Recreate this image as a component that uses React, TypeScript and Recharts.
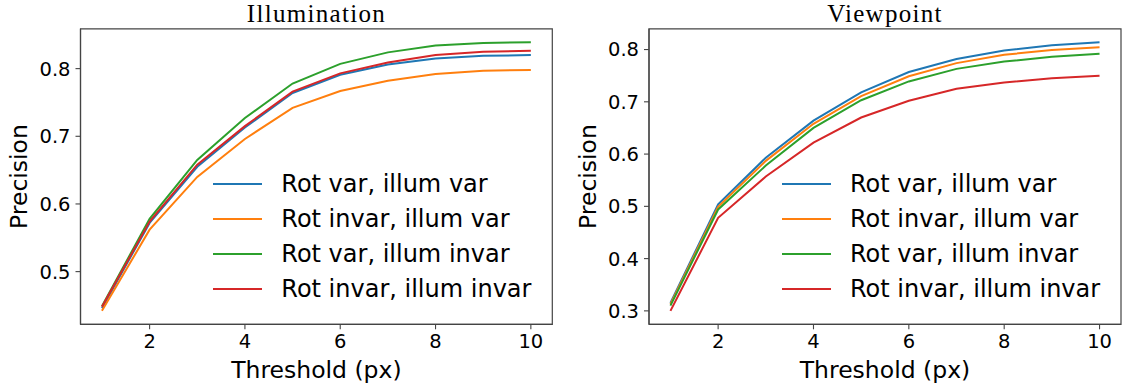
import { Legend, Line, LineChart, ReferenceArea, XAxis, YAxis } from "recharts";

const thresholds = [1, 2, 3, 4, 5, 6, 7, 8, 9, 10];

// Illumination panel
const illumRotVarIllumVar = [0.446, 0.572, 0.655, 0.713, 0.764, 0.791, 0.806, 0.815, 0.819, 0.82];
const illumRotInvarIllumVar = [0.442, 0.562, 0.64, 0.696, 0.742, 0.767, 0.782, 0.792, 0.797, 0.798];
const illumRotVarIllumInvar = [0.449, 0.578, 0.665, 0.727, 0.778, 0.807, 0.824, 0.834, 0.838, 0.839];
const illumRotInvarIllumInvar = [0.448, 0.574, 0.658, 0.715, 0.766, 0.793, 0.809, 0.82, 0.825, 0.8265];

// Viewpoint panel
const viewRotVarIllumVar = [0.315, 0.504, 0.593, 0.664, 0.718, 0.757, 0.782, 0.798, 0.808, 0.814];
const viewRotInvarIllumVar = [0.313, 0.499, 0.587, 0.658, 0.711, 0.749, 0.774, 0.79, 0.799, 0.8045];
const viewRotVarIllumInvar = [0.31, 0.494, 0.578, 0.65, 0.703, 0.739, 0.763, 0.777, 0.786, 0.792];
const viewRotInvarIllumInvar = [0.3, 0.478, 0.557, 0.622, 0.67, 0.702, 0.725, 0.737, 0.745, 0.75];

const seriesNames = [
  "Rot var, illum var",
  "Rot invar, illum var",
  "Rot var, illum invar",
  "Rot invar, illum invar",
];
const seriesColors = ["#1f77b4", "#ff7f0e", "#2ca02c", "#d62728"];

const xTicks = [2, 4, 6, 8, 10];
const illumYTicks = [0.5, 0.6, 0.7, 0.8];
const viewYTicks = [0.3, 0.4, 0.5, 0.6, 0.7, 0.8];

const W = 563;
const H = 387;
const PLOT_TOP = 28.8;
const PLOT_BOTTOM = 324.3;
const X_AXIS_H = 30;
const FONT = "'DejaVu Sans', sans-serif";
const SPINE = "#444";
const X_DOMAIN: [number, number] = [0.55, 10.45];

function Panel({
  title,
  series,
  yTicks,
  left,
  plotLeft,
  plotRight,
}: {
  title: string;
  series: number[][];
  yTicks: number[];
  left: number;
  plotLeft: number;
  plotRight: number;
}) {
  const rows = thresholds.map((t, i) => {
    const r: Record<string, number> = { t };
    series.forEach((s, k) => (r[`s${k}`] = s[i]));
    return r;
  });
  const all = series.flat();
  const lo = Math.min(...all);
  const hi = Math.max(...all);
  const pad = (hi - lo) * 0.05;
  const yDomain: [number, number] = [lo - pad, hi + pad];
  const cx = (plotLeft + plotRight) / 2;
  const midY = (PLOT_TOP + PLOT_BOTTOM) / 2;
  const tickStyle = { fill: "#000", fontSize: 19.5, fontFamily: FONT };

  return (
    <div style={{ position: "absolute", left, top: 0, width: W, height: H }}>
      <LineChart
        width={W}
        height={H}
        data={rows}
        margin={{ top: PLOT_TOP, right: W - plotRight, bottom: H - PLOT_BOTTOM - X_AXIS_H, left: 0 }}
      >
        <XAxis
          xAxisId="b"
          type="number"
          dataKey="t"
          domain={X_DOMAIN}
          allowDataOverflow
          ticks={xTicks}
          height={X_AXIS_H}
          tickSize={5}
          tickMargin={5}
          tick={tickStyle}
          axisLine={{ stroke: SPINE, strokeWidth: 1.2 }}
          tickLine={{ stroke: SPINE, strokeWidth: 1.1 }}
          label={() => (
            <text x={cx} y={378} textAnchor="middle" fontSize={23.5} fontFamily={FONT} fill="#000">
              Threshold (px)
            </text>
          )}
        />
        <YAxis
          yAxisId="l"
          type="number"
          width={plotLeft}
          domain={yDomain}
          allowDataOverflow
          ticks={yTicks}
          tickFormatter={(v: number) => v.toFixed(1)}
          tickSize={5}
          tickMargin={5}
          tick={tickStyle}
          axisLine={{ stroke: SPINE, strokeWidth: 1.2 }}
          tickLine={{ stroke: SPINE, strokeWidth: 1.1 }}
          label={() => (
            <g>
              <text
                x={plotLeft - 53}
                y={midY}
                transform={`rotate(-90 ${plotLeft - 53} ${midY})`}
                textAnchor="middle"
                fontSize={23.5}
                fontFamily={FONT}
                fill="#000"
              >
                Precision
              </text>
              <text
                x={cx}
                y={22}
                textAnchor="middle"
                fontSize={25}
                letterSpacing={1.3}
                fontFamily="'Liberation Serif', serif"
                fill="#000"
              >
                {title}
              </text>
            </g>
          )}
        />
        <ReferenceArea
          xAxisId="b"
          yAxisId="l"
          x1={X_DOMAIN[0]}
          x2={X_DOMAIN[1]}
          y1={yDomain[0]}
          y2={yDomain[1]}
          fill="none"
          fillOpacity={0}
          stroke={SPINE}
          strokeWidth={1.2}
          ifOverflow="visible"
        />
        {series.map((_, k) => (
          <Line
            key={k}
            xAxisId="b"
            yAxisId="l"
            type="linear"
            dataKey={`s${k}`}
            name={seriesNames[k]}
            stroke={seriesColors[k]}
            strokeWidth={2}
            dot={false}
            activeDot={false}
            isAnimationActive={false}
          />
        ))}
        <Legend
          layout="vertical"
          align="center"
          verticalAlign="middle"
          wrapperStyle={{ left: plotRight - 339, top: 166.8, width: "auto", height: "auto" }}
          content={({ payload }: any) => {
            const items = [...(payload || [])].sort(
              (a: any, b: any) => seriesNames.indexOf(a.value) - seriesNames.indexOf(b.value)
            );
            return (
              <div style={{ fontFamily: FONT, fontSize: 24, color: "#000" }}>
                {items.map((e: any) => (
                  <div key={e.value} style={{ display: "flex", alignItems: "center", height: 35, whiteSpace: "nowrap" }}>
                    <svg width={49} height={4} style={{ marginRight: 19, display: "block" }}>
                      <line x1={0} y1={2} x2={49} y2={2} stroke={e.color} strokeWidth={2} />
                    </svg>
                    <span>{e.value}</span>
                  </div>
                ))}
              </div>
            );
          }}
        />
      </LineChart>
    </div>
  );
}

export default function App() {
  return (
    <div
      style={{
        position: "fixed",
        left: 0,
        top: 0,
        width: 1126,
        height: 387,
        background: "#fff",
        fontFamily: FONT,
      }}
    >
      <Panel
        title="Illumination"
        series={[illumRotVarIllumVar, illumRotInvarIllumVar, illumRotVarIllumInvar, illumRotInvarIllumInvar]}
        yTicks={illumYTicks}
        left={0}
        plotLeft={80.5}
        plotRight={552.3}
      />
      <Panel
        title="Viewpoint"
        series={[viewRotVarIllumVar, viewRotInvarIllumVar, viewRotVarIllumInvar, viewRotInvarIllumInvar]}
        yTicks={viewYTicks}
        left={563}
        plotLeft={86}
        plotRight={558}
      />
    </div>
  );
}
